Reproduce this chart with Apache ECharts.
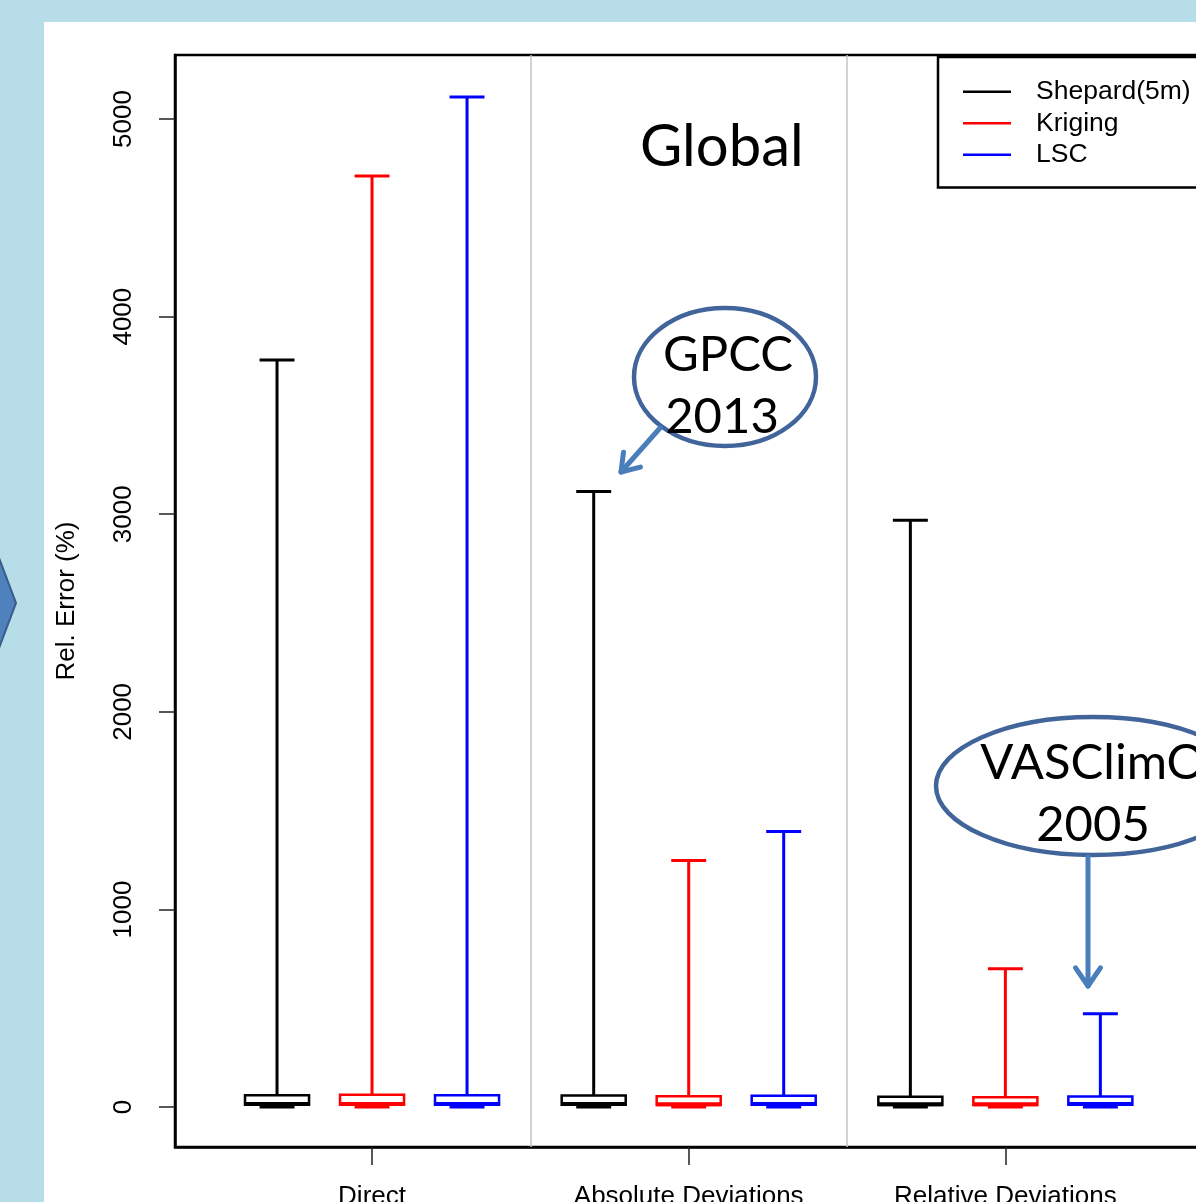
<!DOCTYPE html>
<html>
<head>
<meta charset="utf-8">
<title>Global – Rel. Error (%)</title>
<script src="https://cdn.jsdelivr.net/npm/echarts@6/dist/echarts.min.js"></script>
<style>
  html, body { margin: 0; padding: 0; overflow: hidden; background: #b7dde8; }
  #chart { width: 1240px; height: 1240px; }
</style>
</head>
<body>
<div id="chart"></div>
<script>
// Interpolation schemes compared, and the three error measures
const groups = ['Direct', 'Absolute Deviations', 'Relative Deviations'];
const methods = ['Shepard(5m)', 'Kriging', 'LSC'];

// Box statistics per error measure: [min, Q1, median, Q3, max]
const shepard = [[0, 12, 15, 60, 3780], [0, 12, 15, 58, 3115], [0, 10, 14, 52, 2970]];
const kriging = [[0, 12, 15, 62, 4712], [0, 10, 14, 55, 1248], [0, 10, 14, 50, 700]];
const lsc     = [[0, 12, 16, 60, 5112], [0, 12, 16, 57, 1395], [0, 12, 15, 54, 472]];

const yTicks = [0, 1000, 2000, 3000, 4000, 5000];

const methodStats = [shepard, kriging, lsc];
const methodColors = ['#000000', '#ff0000', '#0000ff'];

// x positions: one unit between boxes of a group, wider spacing between groups
const GROUP_STEP = 10 / 3;
const slotPos = (g, m) => 1 + m + g * GROUP_STEP;
const groupCenter = g => slotPos(g, 1);
const separators = groups.slice(1).map((_, i) => (slotPos(i, 2) + slotPos(i + 1, 0)) / 2);

const X_MIN = -0.074, X_MAX = 10.747;

function renderBox(params, api) {
  const x = api.value(0);
  const [mn, q1, md, q3, mx] = [1, 2, 3, 4, 5].map(i => api.value(i));
  const color = methodColors[params.seriesIndex];
  const half = api.size([0.337, 0])[0];
  const stap = api.size([0.184, 0])[0];
  const cx = api.coord([x, 0])[0];
  const y = v => api.coord([x, v])[1];
  const line = (x1, y1, x2, y2, w) => ({
    type: 'line',
    shape: { x1, y1, x2, y2 },
    style: { stroke: color, lineWidth: w }
  });
  return {
    type: 'group',
    children: [
      line(cx, y(mx), cx, y(q3), 3),
      line(cx, y(q1), cx, y(mn), 3),
      line(cx - stap, y(mx), cx + stap, y(mx), 3),
      line(cx - stap, y(mn), cx + stap, y(mn), 3),
      {
        type: 'rect',
        shape: { x: cx - half, y: y(q3), width: 2 * half, height: y(q1) - y(q3) },
        style: { fill: '#ffffff', stroke: color, lineWidth: 2.5 }
      },
      line(cx - half, y(md), cx + half, y(md), 4)
    ]
  };
}

function arrow(x1, y1, x2, y2, head) {
  const ang = Math.atan2(y2 - y1, x2 - x1);
  const a1 = ang + Math.PI - 0.6, a2 = ang + Math.PI + 0.6;
  const style = { stroke: '#4a7ebb', lineWidth: 5, fill: null, lineCap: 'round', lineJoin: 'round' };
  return [
    { type: 'line', shape: { x1, y1, x2, y2 }, style, z: 20 },
    {
      type: 'polyline',
      shape: { points: [[x2 + head * Math.cos(a1), y2 + head * Math.sin(a1)], [x2, y2], [x2 + head * Math.cos(a2), y2 + head * Math.sin(a2)]] },
      style, z: 20
    }
  ];
}

const calloutFont = '49px Lato, "Noto Sans", sans-serif';
const calloutText = (text, x, y) => ({
  type: 'text', z: 21,
  style: { text, x, y, font: calloutFont, fill: '#000', align: 'center', verticalAlign: 'middle' }
});

const chart = echarts.init(document.getElementById('chart'));

chart.setOption({
  backgroundColor: '#b7dde8',
  animation: false,
  title: {
    text: 'Global',
    left: 635, top: 113,
    textStyle: { fontFamily: 'Lato, "Noto Sans", sans-serif', fontSize: 58, fontWeight: 'normal', color: '#000' }
  },
  legend: {
    orient: 'vertical',
    left: 938, top: 57,
    padding: [19, 80, 17, 25],
    itemGap: 0,
    itemWidth: 48, itemHeight: 2.5,
    icon: 'rect',
    backgroundColor: '#ffffff',
    borderColor: '#000', borderWidth: 2.5,
    textStyle: { fontFamily: 'Arial, "Liberation Sans", sans-serif', fontSize: 26.5, color: '#000', lineHeight: 31.5, padding: [0, 0, 0, 20] },
    data: methods.map((name, i) => ({ name, itemStyle: { color: methodColors[i], borderWidth: 0 } }))
  },
  grid: {
    left: 175, top: 55, width: 1028, height: 1092,
    show: true, backgroundColor: '#fff', borderColor: '#000', borderWidth: 2.5
  },
  xAxis: {
    type: 'value', min: X_MIN, max: X_MAX,
    axisLine: { show: true, onZero: false, lineStyle: { color: '#000', width: 2.5 } },
    axisTick: { show: true, length: 18, customValues: groups.map((_, g) => groupCenter(g)), lineStyle: { color: '#222', width: 1.5 } },
    axisLabel: {
      customValues: groups.map((_, g) => groupCenter(g)),
      formatter: v => groups[groups.findIndex((_, g) => Math.abs(groupCenter(g) - v) < 1e-6)] || '',
      margin: 37,
      fontFamily: 'Arial, "Liberation Sans", sans-serif', fontSize: 26, color: '#000'
    },
    splitLine: { show: false }
  },
  yAxis: {
    type: 'value', min: -202, max: 5324,
    name: 'Rel. Error (%)', nameLocation: 'middle', nameGap: 95,
    nameTextStyle: { fontFamily: 'Arial, "Liberation Sans", sans-serif', fontSize: 26, color: '#000' },
    axisLine: { show: true, onZero: false, lineStyle: { color: '#000', width: 2.5 } },
    axisTick: { show: true, length: 16, customValues: yTicks, lineStyle: { color: '#222', width: 1.5 } },
    axisLabel: {
      customValues: yTicks, rotate: 90, margin: 38,
      formatter: v => String(v),
      fontFamily: 'Arial, "Liberation Sans", sans-serif', fontSize: 26, color: '#000'
    },
    splitLine: { show: false }
  },
  graphic: [
    { type: 'rect', z: -10, shape: { x: 44, y: 22, width: 1300, height: 1300 }, style: { fill: '#ffffff' } },
    { type: 'polygon', z: 5, shape: { points: [[-30, 550], [-4, 550], [16, 603], [-4, 656], [-30, 656]] },
      style: { fill: '#4f81bd', stroke: '#385d8a', lineWidth: 2 } },
    { type: 'ellipse', z: 20, shape: { cx: 725, cy: 377, rx: 91, ry: 69 }, style: { fill: null, stroke: '#41659a', lineWidth: 4.5 } },
    calloutText('GPCC', 728, 355),
    calloutText('2013', 722, 417),
    ...arrow(660, 428, 621, 472, 20),
    { type: 'ellipse', z: 20, shape: { cx: 1093, cy: 786, rx: 157, ry: 69 }, style: { fill: null, stroke: '#41659a', lineWidth: 4.5 } },
    calloutText('VASClimO', 1093, 763),
    calloutText('2005', 1093, 825),
    ...arrow(1088, 857, 1088, 986, 22)
  ],
  series: methods.map((name, m) => ({
    name,
    type: 'custom',
    renderItem: renderBox,
    itemStyle: { color: methodColors[m] },
    encode: { x: 0, y: [1, 2, 3, 4, 5] },
    data: methodStats[m].map((s, g) => [slotPos(g, m), ...s]),
    z: 3,
    markLine: m === 0 ? {
      silent: true, symbol: 'none', label: { show: false },
      lineStyle: { color: '#c4c4c4', width: 1.5, type: 'solid' },
      data: separators.map(x => ({ xAxis: x }))
    } : undefined
  }))
});
</script>
</body>
</html>
